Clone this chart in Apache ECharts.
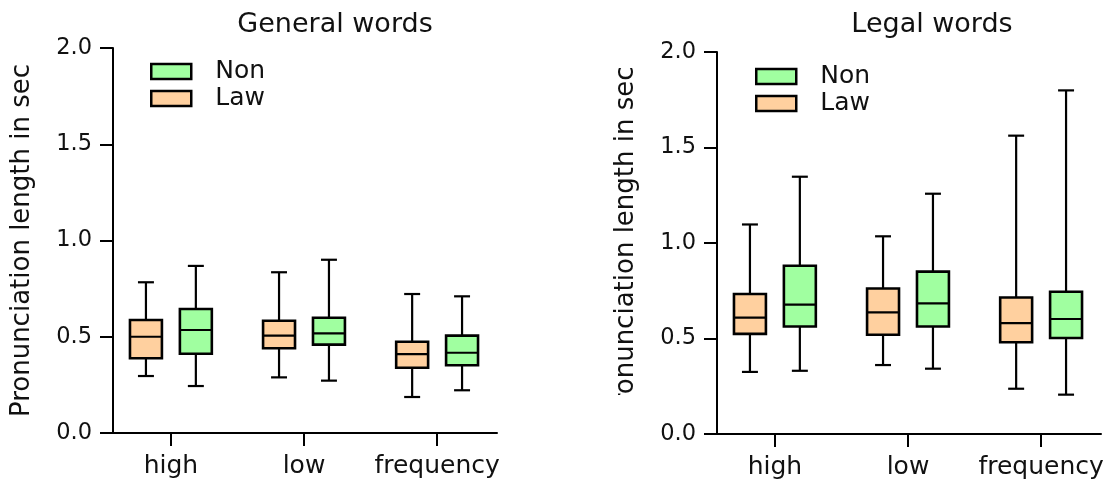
<!DOCTYPE html>
<html>
<head>
<meta charset="utf-8">
<script src="https://cdn.jsdelivr.net/npm/echarts@6/dist/echarts.min.js"></script>
<style>html,body{margin:0;padding:0;background:#fff}#c{width:1115px;height:487px}</style>
</head>
<body>
<div id="c"></div>
<script>
// categories on the x axis
const categories = ['high', 'low', 'frequency'];
// each row: [min, Q1, median, Q3, max]
const generalLaw = [[0.296, 0.388, 0.500, 0.587, 0.783], [0.289, 0.440, 0.506, 0.583, 0.835], [0.187, 0.339, 0.410, 0.474, 0.722]];
const generalNon = [[0.244, 0.412, 0.535, 0.644, 0.868], [0.272, 0.459, 0.518, 0.599, 0.900], [0.222, 0.352, 0.417, 0.506, 0.710]];
const legalLaw = [[0.325, 0.524, 0.609, 0.733, 1.097], [0.361, 0.520, 0.637, 0.762, 1.035], [0.237, 0.480, 0.581, 0.715, 1.562]];
const legalNon = [[0.331, 0.563, 0.677, 0.881, 1.347], [0.342, 0.563, 0.684, 0.850, 1.258], [0.206, 0.503, 0.602, 0.745, 1.799]];
const titles = ['General words', 'Legal words'];
const yName = 'Pronunciation length in sec';
const seriesNames = ['Non', 'Law'];

const COLORS = { Non: '#a0ffa0', Law: '#ffd09f' };
const FONT = 'DejaVu Sans';

const chart = echarts.init(document.getElementById('c'), null, { renderer: 'canvas' });

function withIndex(rows) { return rows.map((r, i) => [i].concat(r)); }

function makeRender(side, color) {
  return function (params, api) {
    const x = api.value(0);
    const band = api.size([1, 0])[0];
    const off = side * band * 0.1875;
    const half = band * 0.12;
    const cap = band * 0.06;
    const pMin = api.coord([x, api.value(1)]);
    const pQ1 = api.coord([x, api.value(2)]);
    const pMed = api.coord([x, api.value(3)]);
    const pQ3 = api.coord([x, api.value(4)]);
    const pMax = api.coord([x, api.value(5)]);
    const cx = pMin[0] + off;
    const lw = { stroke: '#000', lineWidth: 2.2 };
    return {
      type: 'group',
      children: [
        { type: 'line', shape: { x1: cx, y1: pMin[1], x2: cx, y2: pQ1[1] }, style: lw },
        { type: 'line', shape: { x1: cx, y1: pQ3[1], x2: cx, y2: pMax[1] }, style: lw },
        { type: 'line', shape: { x1: cx - cap, y1: pMin[1], x2: cx + cap, y2: pMin[1] }, style: lw },
        { type: 'line', shape: { x1: cx - cap, y1: pMax[1], x2: cx + cap, y2: pMax[1] }, style: lw },
        { type: 'rect', shape: { x: cx - half, y: pQ3[1], width: 2 * half, height: pQ1[1] - pQ3[1] },
          style: { fill: color, stroke: '#000', lineWidth: 2.6 } },
        { type: 'line', shape: { x1: cx - half, y1: pMed[1], x2: cx + half, y2: pMed[1] }, style: lw }
      ]
    };
  };
}

function mkSeries(name, rows, idx, side) {
  return {
    name: name,
    type: 'custom',
    coordinateSystem: 'cartesian2d',
    xAxisIndex: idx, yAxisIndex: idx,
    itemStyle: { color: COLORS[name] },
    encode: { x: 0, y: [1, 2, 3, 4, 5] },
    clip: false,
    renderItem: makeRender(side, COLORS[name]),
    data: withIndex(rows)
  };
}

const grids = [
  { left: 113, top: 48, width: 384, height: 385 },
  { left: 717, top: 52, width: 384, height: 382 }
];

function xAxis(i) {
  return {
    type: 'value', gridIndex: i, min: -0.435, max: 2.45,
    splitLine: { show: false },
    axisLine: { show: true, onZero: false, lineStyle: { color: '#000', width: 2 } },
    axisTick: { show: true, length: 13, lineStyle: { color: '#000', width: 2 }, customValues: categories.map((c, k) => k) },
    axisLabel: { show: true, margin: 21, fontSize: 25, color: '#111', fontFamily: FONT,
      customValues: categories.map((c, k) => k), formatter: v => categories[Math.round(v)] }
  };
}
function yAxis(i) {
  return {
    type: 'value', gridIndex: i, min: 0, max: 2, interval: 0.5,
    splitLine: { show: false },
    name: yName, nameLocation: 'middle', nameGap: 78,
    nameTextStyle: { fontSize: 26, color: '#111', fontFamily: FONT },
    axisLine: { show: true, onZero: false, lineStyle: { color: '#000', width: 2 } },
    axisTick: { show: true, length: 13, lineStyle: { color: '#000', width: 2 } },
    axisLabel: { margin: 21, fontSize: 22.5, color: '#111', fontFamily: FONT, formatter: v => v.toFixed(1) }
  };
}

function legend(left, top) {
  return {
    orient: 'vertical', left: left, top: top, padding: 0, itemGap: 0,
    itemWidth: 40, itemHeight: 15, selectedMode: false,
    textStyle: { fontSize: 25, lineHeight: 27, color: '#111', fontFamily: FONT, padding: [0, 0, 0, 19] },
    data: seriesNames.map(n => ({ name: n, icon: 'rect', itemStyle: { color: COLORS[n], borderColor: '#000', borderWidth: 2.5 } }))
  };
}

chart.setOption({
  animation: false,
  textStyle: { fontFamily: FONT },
  title: [
    { text: titles[0], left: 330, top: 6, textAlign: 'center', textStyle: { fontSize: 27, fontWeight: 'normal', color: '#111', fontFamily: FONT } },
    { text: titles[1], left: 927, top: 6, textAlign: 'center', textStyle: { fontSize: 27, fontWeight: 'normal', color: '#111', fontFamily: FONT } }
  ],
  legend: [legend(150, 58), legend(755, 63)],
  grid: grids,
  xAxis: [xAxis(0), xAxis(1)],
  yAxis: [yAxis(0), yAxis(1)],
  series: [
    mkSeries('Law', generalLaw, 0, -1),
    mkSeries('Non', generalNon, 0, 1),
    mkSeries('Law', legalLaw, 1, -1),
    mkSeries('Non', legalNon, 1, 1)
  ],
  graphic: [
    { type: 'rect', z: 100, shape: { x: 600, y: 395, width: 52, height: 40 }, style: { fill: '#fff' } }
  ]
});
</script>
</body>
</html>
